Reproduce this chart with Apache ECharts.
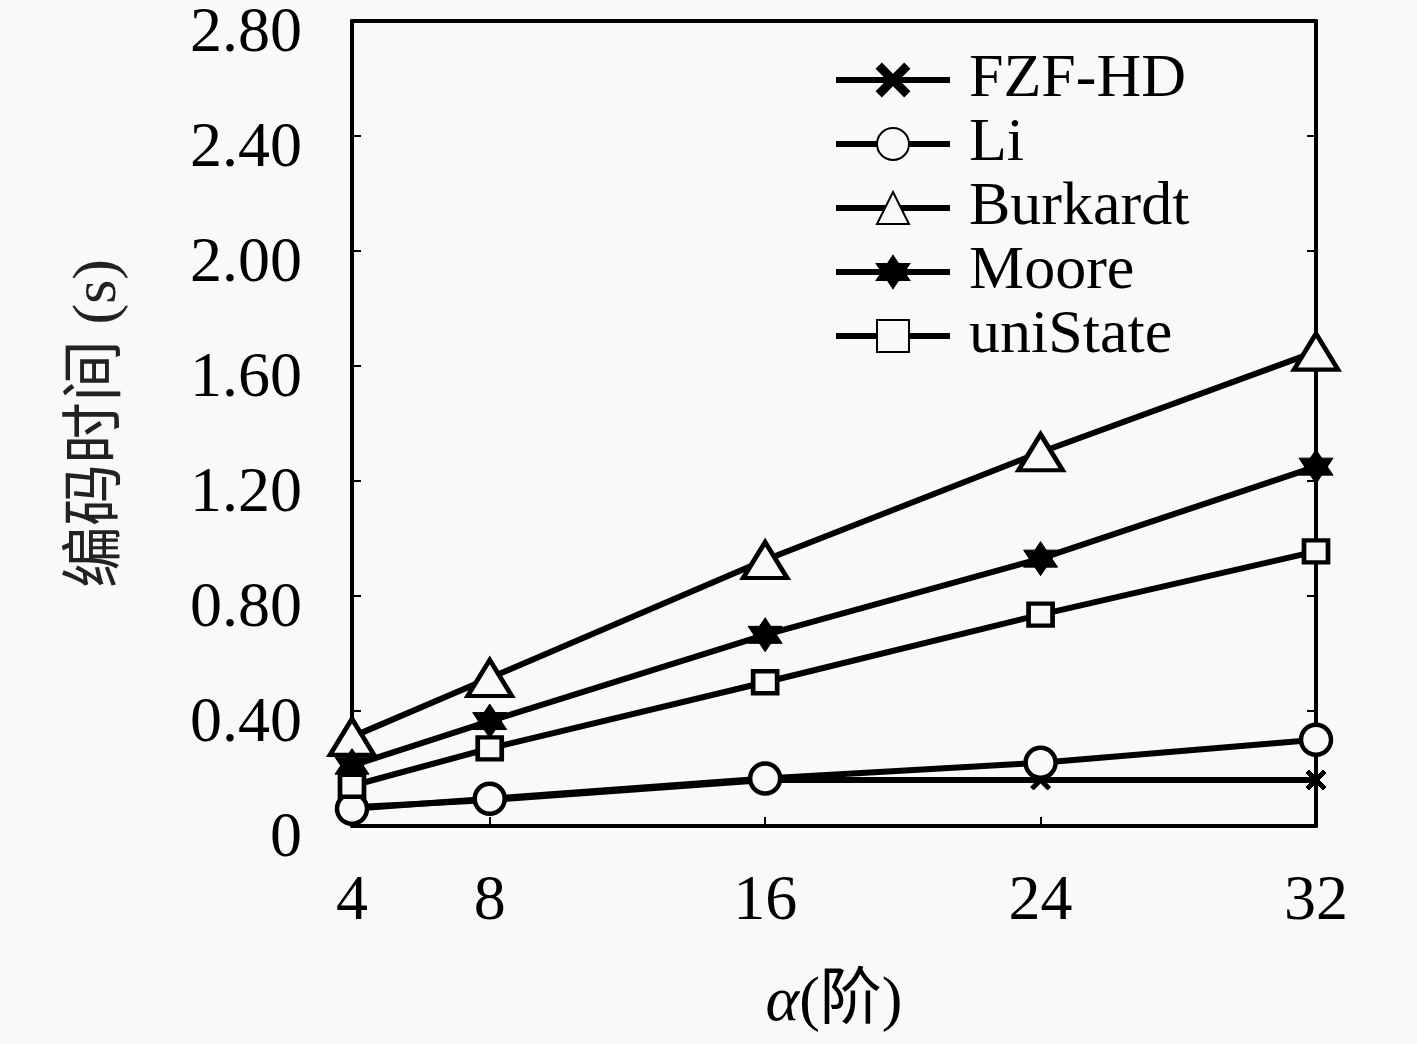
<!DOCTYPE html>
<html>
<head>
<meta charset="utf-8">
<title>编码时间</title>
<script src="https://cdn.jsdelivr.net/npm/echarts@6/dist/echarts.min.js"></script>
<style>
    html, body { margin: 0; padding: 0; background: #f9f9f9; }
    #main { width: 1417px; height: 1044px; }
</style>
</head>
<body>
<div id="main"></div>
<script>
// 横轴：阶数
var orders = [4, 8, 16, 24, 32];
var xTicks = [4, 8, 16, 24, 32];

// 各方法编码时间 (s)
var fzfHD = [0.065, 0.09, 0.16, 0.16, 0.16];
var li = [0.06, 0.095, 0.165, 0.22, 0.30];
var burkardt = [0.31, 0.515, 0.925, 1.30, 1.65];
var moore = [0.21, 0.365, 0.665, 0.93, 1.25];
var uniState = [0.14, 0.27, 0.50, 0.735, 0.955];

var names = ['FZF-HD', 'Li', 'Burkardt', 'Moore', 'uniState'];

var FONT = '"Liberation Serif", "DejaVu Serif", "Noto Sans CJK SC", serif';
var INK = '#000';
var BG = '#f9f9f9';

// 自定义符号
var crossPath = 'path://M-10,-7 L-7,-10 L0,-3 L7,-10 L10,-7 L3,0 L10,7 L7,10 L0,3 L-7,10 L-10,7 L-3,0 Z';
var hexagramPath = 'path://M0,-10 L8.66,5 L-8.66,5 Z M0,10 L-8.66,-5 L8.66,-5 Z';

function toPairs(arr) {
    var out = [];
    for (var i = 0; i < arr.length; i++) {
        out.push([orders[i], arr[i]]);
    }
    return out;
}

function makeSeries(name, values, symbol, size, filled) {
    return {
        name: name,
        type: 'line',
        data: toPairs(values),
        symbol: symbol,
        symbolSize: size,
        showAllSymbol: true,
        clip: false,
        lineStyle: { color: INK, width: 6 },
        itemStyle: {
            color: filled ? INK : BG,
            borderColor: INK,
            borderWidth: filled ? 1 : 4.5
        },
        emphasis: { disabled: true },
        z: 3
    };
}

var chart = echarts.init(document.getElementById('main'));

var axisLineStyle = { show: true, onZero: false, lineStyle: { color: INK, width: 4 } };
var tickStyle = { inside: true, length: 9, lineStyle: { color: INK, width: 2 } };

var option = {
    backgroundColor: BG,
    animation: false,
    textStyle: { fontFamily: FONT },
    grid: {
        left: 352, right: 101, top: 21, bottom: 218,
        containLabel: false,
        outerBoundsMode: 'none'
    },
    legend: {
        orient: 'vertical',
        left: 828,
        top: 43,
        itemWidth: 114,
        itemHeight: 40,
        itemGap: 0,
        data: names,
        lineStyle: { width: 6 },
        textStyle: {
            fontFamily: FONT, fontSize: 62, color: INK,
            lineHeight: 64, padding: [0, 0, 0, 14]
        }
    },
    xAxis: [{
        type: 'value',
        min: 4,
        max: 32,
        name: '{a|α}(阶)',
        nameLocation: 'middle',
        nameGap: 145,
        nameTextStyle: {
            fontFamily: FONT, fontSize: 62, color: INK,
            rich: { a: { fontFamily: FONT, fontSize: 64, fontStyle: 'italic', color: INK } }
        },
        axisLine: axisLineStyle,
        axisTick: Object.assign({ customValues: xTicks }, tickStyle),
        axisLabel: {
            customValues: xTicks,
            margin: 44,
            fontSize: 64,
            fontFamily: FONT,
            color: INK
        },
        splitLine: { show: false }
    }, {
        type: 'value',
        position: 'top',
        min: 4,
        max: 32,
        axisLine: axisLineStyle,
        axisTick: { show: false },
        axisLabel: { show: false },
        splitLine: { show: false }
    }],
    yAxis: [{
        type: 'value',
        min: 0,
        max: 2.8,
        interval: 0.4,
        name: '编码时间 (s)',
        nameLocation: 'middle',
        nameGap: 222,
        nameRotate: 90,
        nameTextStyle: { fontFamily: FONT, fontSize: 62, color: '#222' },
        axisLine: axisLineStyle,
        axisTick: tickStyle,
        axisLabel: {
            margin: 50,
            color: INK,
            // 标签略低于刻度，与原图一致
            formatter: function (v) { return '{v|' + (v === 0 ? '0' : v.toFixed(2)) + '}'; },
            rich: {
                v: { fontSize: 64, fontFamily: FONT, color: INK, padding: [26, 0, 0, 0] }
            }
        },
        splitLine: { show: false }
    }, {
        type: 'value',
        position: 'right',
        min: 0,
        max: 2.8,
        interval: 0.4,
        axisLine: axisLineStyle,
        axisTick: tickStyle,
        axisLabel: { show: false },
        splitLine: { show: false }
    }],
    series: [
        makeSeries('FZF-HD', fzfHD, crossPath, 20, true),
        makeSeries('Li', li, 'circle', 30, false),
        makeSeries('Burkardt', burkardt, 'triangle', [44, 36], false),
        makeSeries('Moore', moore, hexagramPath, 34, true),
        makeSeries('uniState', uniState, 'rect', [24, 22], false)
    ]
};

chart.setOption(option);
</script>
</body>
</html>
